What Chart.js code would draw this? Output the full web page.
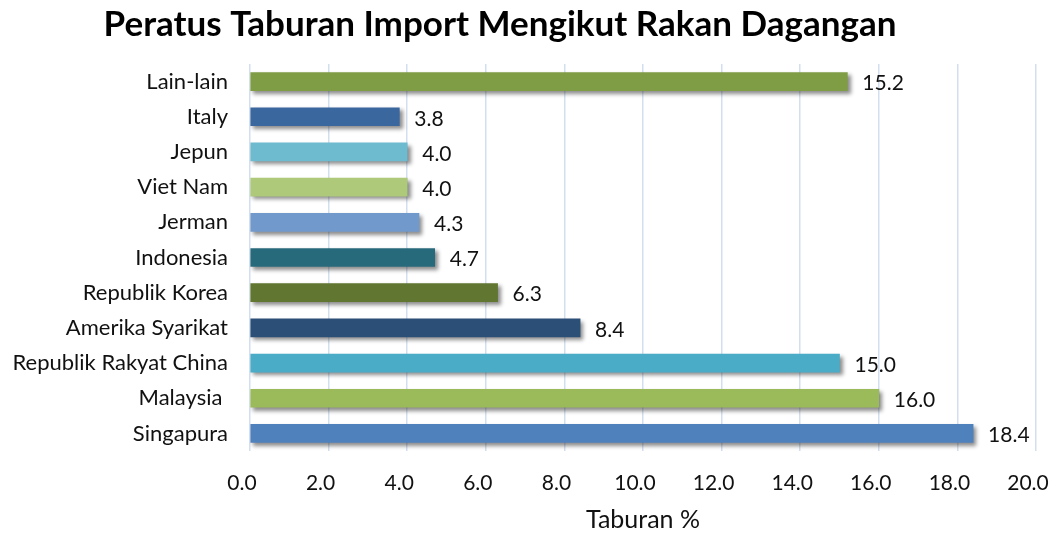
<!DOCTYPE html>
<html>
<head>
<meta charset="utf-8">
<script src="https://cdn.jsdelivr.net/npm/chart.js@4/dist/chart.umd.min.js"></script>
<style>
  html, body { margin: 0; padding: 0; background: #fff; }
  #wrap { width: 1058px; height: 536px; position: relative; }
</style>
</head>
<body>
<div id="wrap"><canvas id="importChart"></canvas></div>
<script>
const chartTitle = 'Peratus Taburan Import Mengikut Rakan Dagangan';
const categories = ['Lain-lain', 'Italy', 'Jepun', 'Viet Nam', 'Jerman', 'Indonesia',
    'Republik Korea', 'Amerika Syarikat', 'Republik Rakyat China', 'Malaysia ', 'Singapura'];
const shares = [15.2, 3.8, 4.0, 4.0, 4.3, 4.7, 6.3, 8.4, 15.0, 16.0, 18.4];
const barColors = ['#7F9D45', '#3A679E', '#6EBACF', '#AEC97A', '#7299CB', '#276A7B',
    '#617630', '#2C4F78', '#4AACC6', '#9BBA59', '#4F81BD'];

const fontFamily = 'Lato, "Open Sans", sans-serif';
const gridColor = '#D3DFEE';

// shadow under the bars + value labels at the bar ends + title (sits a bit left of centre)
const barExtras = {
    id: 'barExtras',
    beforeDatasetsDraw(chart) {
        const ctx = chart.ctx;
        ctx.save();
        ctx.shadowColor = 'rgba(0,0,0,0.45)';
        ctx.shadowBlur = 4;
        ctx.shadowOffsetX = 3;
        ctx.shadowOffsetY = 3;
    },
    afterDatasetsDraw(chart) {
        const ctx = chart.ctx;
        ctx.restore();
        const meta = chart.getDatasetMeta(0);
        ctx.save();
        ctx.font = '21px ' + fontFamily;
        ctx.fillStyle = '#111';
        ctx.textAlign = 'left';
        ctx.textBaseline = 'middle';
        meta.data.forEach((bar, i) => {
            ctx.fillText(shares[i].toFixed(1), bar.x + 15, bar.y + 2);
        });
        ctx.restore();
    },
    afterDraw(chart) {
        const ctx = chart.ctx;
        ctx.save();
        ctx.font = 'bold 35px ' + fontFamily;
        ctx.fillStyle = '#000';
        ctx.textAlign = 'center';
        ctx.textBaseline = 'alphabetic';
        ctx.fillText(chartTitle, 500, 36);
        ctx.restore();
    }
};

const ctx = document.getElementById('importChart').getContext('2d');
new Chart(ctx, {
    type: 'bar',
    data: {
        labels: categories,
        datasets: [{
            data: shares,
            backgroundColor: barColors,
            borderWidth: 0,
            barThickness: 18
        }]
    },
    options: {
        indexAxis: 'y',
        responsive: true,
        maintainAspectRatio: false,
        animation: false,
        layout: { padding: { left: 0, right: 22, top: 64, bottom: 0 } },
        plugins: {
            legend: { display: false },
            tooltip: { enabled: false },
            title: { display: false }
        },
        scales: {
            x: {
                min: 0,
                max: 20,
                ticks: {
                    stepSize: 2,
                    color: '#111',
                    font: { family: fontFamily, size: 21 },
                    padding: 20,
                    labelOffset: -8,
                    maxRotation: 0,
                    callback: v => v.toFixed(1)
                },
                grid: { color: gridColor, lineWidth: 1.5, drawTicks: false },
                border: { display: false },
                title: {
                    display: true,
                    text: 'Taburan %',
                    color: '#111',
                    font: { family: fontFamily, size: 25 },
                    padding: { top: 0, bottom: 1 }
                },
                afterFit(scale) {
                    scale.height = 85;
                    scale.paddingRight = 0;
                    scale.paddingLeft = 0;
                }
            },
            y: {
                ticks: {
                    color: '#111',
                    font: { family: fontFamily, size: 22 },
                    padding: 22,
                    autoSkip: false
                },
                grid: { display: false, drawTicks: false },
                border: { display: false },
                afterFit(scale) { scale.width = 250; }
            }
        }
    },
    plugins: [barExtras]
});
</script>
</body>
</html>
